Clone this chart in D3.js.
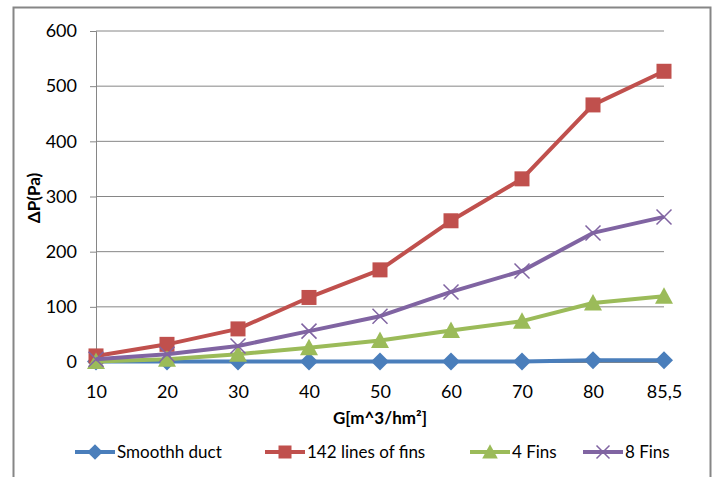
<!DOCTYPE html>
<html><head><meta charset="utf-8">
<script src="https://cdn.jsdelivr.net/npm/d3@7/dist/d3.min.js"></script>
<style>body{margin:0;background:#fff}svg{display:block}text{font-family:Lato,"Open Sans",sans-serif}</style>
</head><body><svg id="c" width="717" height="477"></svg>
<script>
const categories = ["10","20","30","40","50","60","70","80","85,5"];
const smoothDuct = [1,1,1,1,1,1,1,3,3];
const fins142 = [11,32,60,117,167,256,332,466,527];
const fins4 = [1,5,14,26,39,57,74,107,119];
const fins8 = [5,14,29,56,83,127,165,234,263];
const yTicks = [0,100,200,300,400,500,600];
const seriesNames = ["Smoothh duct","142 lines of fins","4 Fins","8 Fins"];
const seriesColors = ["#4A7EBB","#C0504D","#9BBB59","#8064A2"];
const seriesShapes = ["diamond","square","triangle","x"];
const seriesValues = [smoothDuct, fins142, fins4, fins8];

const svg = d3.select("#c");
const L = 96, R = 664, T = 31, B = 362;
const x = d3.scalePoint().domain(categories).range([L, R]);
const y = d3.scaleLinear().domain([0, 600]).range([B, T]);

// outer border
svg.append("rect").attr("x",13.5).attr("y",7.5).attr("width",697).attr("height",480)
  .attr("fill","none").attr("stroke","#868686").attr("stroke-width",2);

// gridlines
svg.append("g").selectAll("line").data(yTicks.filter(d=>d>0)).join("line")
  .attr("x1",L).attr("x2",R).attr("y1",d=>y(d)).attr("y2",d=>y(d))
  .attr("stroke","#868686").attr("stroke-width",1);

// y axis
const ya = svg.append("g").attr("transform",`translate(${L},0)`)
  .call(d3.axisLeft(y).tickValues(yTicks).tickSize(6).tickPadding(13));
ya.select(".domain").attr("stroke","#868686");
ya.selectAll(".tick line").attr("stroke","#868686");
ya.selectAll("text").attr("font-size",18).attr("fill","#000").attr("font-family","Lato");

// x axis
const xa = svg.append("g").attr("transform",`translate(0,${B})`)
  .call(d3.axisBottom(x).tickSize(5).tickPadding(18));
xa.select(".domain").attr("stroke","#868686");
xa.selectAll(".tick line").attr("stroke","#868686");
xa.selectAll("text").attr("font-size",18).attr("fill","#000").attr("font-family","Lato");

// axis titles
svg.append("text").attr("transform","translate(40,198) rotate(-90)").attr("text-anchor","middle")
  .attr("font-size",17).attr("font-weight","bold").text("ΔP(Pa)");
svg.append("text").attr("x",380).attr("y",424).attr("text-anchor","middle")
  .attr("font-size",17).attr("font-weight","bold").text("G[m^3/hm²]");

function marker(g, shape, color, cx, cy, s) {
  if (shape==="square") g.append("rect").attr("x",cx-s).attr("y",cy-s).attr("width",2*s).attr("height",2*s).attr("fill",color);
  else if (shape==="diamond") g.append("path").attr("d",`M${cx},${cy-s*1.2}L${cx+s*1.2},${cy}L${cx},${cy+s*1.2}L${cx-s*1.2},${cy}Z`).attr("fill",color);
  else if (shape==="triangle") g.append("path").attr("d",`M${cx},${cy-s*1.2}L${cx+s*1.2},${cy+s}L${cx-s*1.2},${cy+s}Z`).attr("fill",color);
  else g.append("path").attr("d",`M${cx-s},${cy-s}L${cx+s},${cy+s}M${cx-s},${cy+s}L${cx+s},${cy-s}`).attr("stroke",color).attr("stroke-width",1.5).attr("fill","none");
}

const line = d3.line().x((d,i)=>x(categories[i])).y(d=>y(d));
seriesValues.forEach((vals, k) => {
  const g = svg.append("g");
  g.append("path").datum(vals).attr("d",line).attr("fill","none")
    .attr("stroke",seriesColors[k]).attr("stroke-width",4).attr("stroke-linejoin","round");
  vals.forEach((v,i)=>marker(g, seriesShapes[k], seriesColors[k], x(categories[i]), y(v), 7.5));
});

// legend
const legX = [75, 265, 470, 583];
seriesNames.forEach((n,k)=>{
  const g = svg.append("g");
  const lx = legX[k], ly = 452;
  g.append("line").attr("x1",lx).attr("x2",lx+40).attr("y1",ly).attr("y2",ly)
    .attr("stroke",seriesColors[k]).attr("stroke-width",4);
  marker(g, seriesShapes[k], seriesColors[k], lx+20, ly, 6.5);
  g.append("text").attr("x",lx+42).attr("y",ly+6).attr("font-size",17).text(n);
});
</script></body></html>
